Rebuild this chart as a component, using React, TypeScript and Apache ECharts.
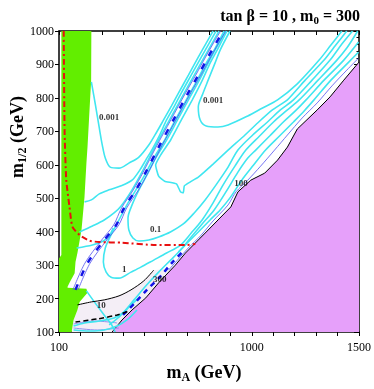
import React, { useEffect, useRef } from 'react';
import * as echarts from 'echarts';

const X_LABELS = [100, 1000, 1500];

const BOUNDARY = [[348,100],[394,136],[441,166],[505,202],[565,247],[643,300],[690,336],[750,375],[810,414],[902,474],[935,519],[995,554],[1060,575],[1120,614],[1166,653],[1212,707],[1305,764],[1365,803],[1429,853],[1500,907]];

const GREEN = [[111,1000],[251,1000],[250,853],[233,653],[228,605],[219,504],[205,405],[186,336],[177,309],[173,276],[149,247],[140,235],[140,232],[228,229],[233,217],[196,190],[186,166],[168,136],[159,100],[100,100],[100,320],[111,330]];

const LAVENDER = [[186,181],[251,190],[311,196],[380,208],[436,226],[496,253],[542,285],[630,291],[565,247],[505,202],[441,166],[394,136],[348,100],[159,100],[168,136],[186,166]];

const RED_LINE = [[122,1000],[126,704],[134,554],[149,474],[163,414],[196,390],[242,373],[288,369],[394,367],[551,360],[690,360],[736,363]];

const BLUE_CENTER = [[177,226],[233,306],[311,375],[367,420],[404,471],[459,525],[505,578],[565,653],[634,734],[703,815],[750,868],[796,922],[833,964],[866,1000]];
const BLUE_LEFT = [[165,226],[221,306],[299,375],[355,420],[392,471],[447,525],[493,578],[553,653],[622,734],[691,815],[738,868],[784,922],[821,964],[854,1000]];
const BLUE_RIGHT = [[189,226],[245,306],[323,375],[379,420],[416,471],[471,525],[517,578],[577,653],[646,734],[715,815],[762,868],[808,922],[845,964],[878,1000]];
const BLUE_EDGE = [[611,285],[657,318],[703,351],[764,390],[819,432],[889,480],[926,519],[981,554],[1041,596],[1106,644],[1166,689],[1235,740],[1305,785],[1374,836],[1443,883],[1498,919]];
const BLUE_LOW = [[399,151],[454,187],[510,226],[570,264],[630,309],[685,345]];

const C_0001_LEFT = [[251,848],[270,779],[288,710],[302,659],[316,620],[339,593],[380,590],[426,605],[473,623],[519,659],[556,698],[588,734],[625,776],[658,815],[704,868],[750,922],[787,964],[819,1000]];
const C_B = [[219,489],[251,495],[288,513],[334,525],[390,537],[441,554],[477,584],[505,614],[533,644],[570,689],[602,734],[639,776],[671,815],[717,868],[764,922],[801,964],[833,1000]];
const C_C = [[196,399],[256,417],[311,435],[357,456],[390,477],[441,525],[487,578],[547,653],[616,734],[685,815],[731,868],[778,922],[815,964],[847,1000]];
const C_D = [[182,351],[256,360],[307,372],[334,387],[353,411]];
const C_0001_RIGHT = [[898,1000],[852,943],[828,904],[796,853],[769,809],[750,773],[759,734],[787,716],[842,713],[889,719],[981,746],[1050,770],[1120,794],[1212,842],[1314,913],[1369,958],[1420,1000]];
const C_001 = [[884,1000],[838,943],[805,904],[769,853],[722,794],[671,734],[621,674],[574,629],[551,599],[565,566],[593,551],[648,543],[667,519],[680,516],[685,537],[713,549],[750,563],[819,602],[889,644],[958,683],[1027,725],[1096,764],[1166,794],[1249,853],[1337,913],[1388,955],[1443,1000]];
const C_01 = [[879,1000],[828,943],[796,904],[755,853],[704,794],[653,734],[602,674],[551,620],[510,569],[473,525],[441,480],[422,441],[426,405],[445,381],[473,372],[519,375],[565,384],[620,399],[680,423],[731,456],[782,495],[833,540],[889,593],[935,644],[1004,689],[1073,728],[1133,764],[1194,794],[1281,853],[1365,913],[1420,961],[1470,1000]];
const C_1 = [[870,1000],[824,943],[787,904],[745,853],[694,794],[643,734],[593,674],[542,620],[500,569],[459,525],[417,480],[380,435],[343,390],[316,351],[307,309],[320,279],[343,264],[380,261],[436,279],[482,294],[542,315],[602,336],[667,360],[717,396],[768,435],[819,486],[866,540],[921,596],[972,644],[1036,686],[1101,728],[1166,764],[1221,794],[1309,853],[1397,913],[1443,949],[1494,1000]];
const C_L4 = [[334,121],[390,151],[450,196],[510,241],[565,279],[621,315],[667,345],[713,381],[768,423],[824,465],[879,519],[935,578],[981,620],[1018,644],[1083,686],[1147,728],[1203,761],[1253,794],[1337,853],[1429,913],[1498,967]];
const C_L5 = [[657,339],[703,369],[750,399],[805,435],[852,465],[898,501],[953,554],[1008,599],[1064,644],[1129,686],[1194,728],[1244,761],[1290,794],[1369,853],[1452,907],[1498,937]];
const C_BL1 = [[168,118],[219,127],[288,133],[357,142],[404,160],[436,181],[473,202]];
const C_BL2 = [[168,106],[242,103],[311,106],[371,118],[417,136],[464,166]];
const C_BL3 = [[228,223],[265,190],[307,154],[343,124],[362,100]];

const LAV_1 = [[168,124],[265,133],[371,127]];
const LAV_2 = [[168,112],[279,106],[380,112]];

const BLACK_10 = [[186,181],[251,190],[311,196],[380,208],[436,226],[496,253],[542,285]];
const BLACK_DASH = [[177,130],[279,139],[371,151],[426,163]];

const CONTOUR_LABELS = [
  { name: '0.001', value: [334, 742] },
  { name: '0.001', value: [819, 794] },
  { name: '0.1', value: [551, 408] },
  { name: '1', value: [404, 288] },
  { name: '10', value: [297, 181] },
  { name: '300', value: [570, 258] },
  { name: '100', value: [949, 546] },
];

const FONT = 'Liberation Serif';
const CYAN = '#40E6F0';
const BLUE = '#1414E6';
const THIN_BLUE = '#5050F0';

export default function App() {
  const ref = useRef<HTMLDivElement>(null);
  useEffect(() => {
    const chart = echarts.init(ref.current!, null, { renderer: 'svg' });
    const polygon = (pts: number[][], fill: string, z: number) => ({
      type: 'custom',
      coordinateSystem: 'cartesian2d',
      z,
      silent: true,
      data: [[pts[0][0], pts[0][1]]],
      encode: { x: 0, y: 1 },
      renderItem: (_p: any, api: any) => ({
        type: 'polygon',
        shape: { points: pts.map((p) => api.coord(p)) },
        style: { fill, stroke: 'none' },
      }),
    });
    const line = (data: number[][], color: string, width: number, type: any = 'solid', z = 4, smooth: any = 0.3) => ({
      type: 'line',
      data,
      showSymbol: false,
      symbol: 'none',
      smooth,
      silent: true,
      z,
      lineStyle: { color, width, type },
    });
    const axisBase = {
      axisLine: { show: true, onZero: false, lineStyle: { color: '#000', width: 1.5 } },
      splitLine: { show: false },
    };
    chart.setOption({
      animation: false,
      grid: { left: 59, right: 12, top: 31, bottom: 57 },
      xAxis: [
        {
          type: 'value', min: 100, max: 1500, interval: 100, position: 'bottom', ...axisBase,
          axisTick: { show: true, inside: false, length: 4, lineStyle: { color: '#000' } },
          axisLabel: {
            formatter: (v: number) => (X_LABELS.includes(v) ? String(v) : ''),
            color: '#000', fontFamily: FONT, fontSize: 12, margin: 9,
          },
        },
        {
          type: 'value', min: 100, max: 1500, interval: 100, position: 'top', ...axisBase,
          axisTick: { show: true, inside: true, length: 4, lineStyle: { color: '#000' } },
          axisLabel: { show: false },
        },
      ],
      yAxis: [
        {
          type: 'value', min: 100, max: 1000, interval: 100, position: 'left', ...axisBase,
          axisTick: { show: true, inside: false, length: 4, lineStyle: { color: '#000' } },
          axisLabel: { formatter: (v: number) => String(v), color: '#000', fontFamily: FONT, fontSize: 12, margin: 5 },
        },
        {
          type: 'value', min: 100, max: 1000, interval: 100, position: 'right', ...axisBase,
          axisTick: { show: true, inside: true, length: 5, lineStyle: { color: '#000' } },
          minorTick: { show: true, splitNumber: 5, length: 2.5, lineStyle: { color: '#000' } },
          axisLabel: { show: false },
        },
      ],
      graphic: [
        {
          type: 'text', x: 360, y: 15, z: 100,
          style: {
            text: '{a|tan β = 10 , m}{s|0}{a| = 300}',
            textAlign: 'right', textVerticalAlign: 'middle',
            rich: {
              a: { fontSize: 16, fontWeight: 'bold', fontFamily: FONT, lineHeight: 20, fill: '#000' },
              s: { fontSize: 11, fontWeight: 'bold', fontFamily: FONT, lineHeight: 11, verticalAlign: 'bottom', fill: '#000' },
            },
          },
        },
        {
          type: 'text', x: 204, y: 372, z: 100,
          style: {
            text: '{a|m}{s|A}{a| (GeV)}',
            textAlign: 'center', textVerticalAlign: 'middle',
            rich: {
              a: { fontSize: 18, fontWeight: 'bold', fontFamily: FONT, lineHeight: 22, fill: '#000' },
              s: { fontSize: 12, fontWeight: 'bold', fontFamily: FONT, lineHeight: 12, verticalAlign: 'bottom', fill: '#000' },
            },
          },
        },
        {
          type: 'text', x: 17, y: 137, rotation: Math.PI / 2, z: 100,
          style: {
            text: '{a|m}{s|1/2}{a| (GeV)}',
            textAlign: 'center', textVerticalAlign: 'middle',
            rich: {
              a: { fontSize: 18, fontWeight: 'bold', fontFamily: FONT, lineHeight: 22, fill: '#000' },
              s: { fontSize: 12, fontWeight: 'bold', fontFamily: FONT, lineHeight: 12, verticalAlign: 'bottom', fill: '#000' },
            },
          },
        },
      ],
      series: [
        polygon(LAVENDER, '#F4EEF6', 1),
        polygon(GREEN, '#62EE00', 2),
        {
          type: 'line', data: BOUNDARY, showSymbol: false, symbol: 'none', silent: true, z: 3,
          lineStyle: { color: '#000', width: 1 },
          areaStyle: { color: '#E6A0FA', opacity: 1, origin: 'start' },
        },
        line(LAV_1, '#9090F0', 1, 'solid', 4),
        line(LAV_2, '#9090F0', 1, 'solid', 4),
        line(C_0001_LEFT, CYAN, 1.6),
        line(C_B, CYAN, 1.6),
        line(C_C, CYAN, 1.6),
        line(C_D, CYAN, 1.6),
        line(C_0001_RIGHT, CYAN, 1.6),
        line(C_001, CYAN, 1.6, 'solid', 4, 0.15),
        line(C_01, CYAN, 1.6),
        line(C_1, CYAN, 1.6),
        line(C_L4, CYAN, 1.6),
        line(C_L5, CYAN, 1.6),
        line(C_BL1, CYAN, 1.6),
        line(C_BL2, CYAN, 1.6),
        line(C_BL3, CYAN, 1.6),
        line(BLUE_LEFT, THIN_BLUE, 0.8, 'solid', 5),
        line(BLUE_RIGHT, THIN_BLUE, 0.8, 'solid', 5),
        line(BLUE_EDGE, THIN_BLUE, 0.8, 'solid', 5),
        line(BLUE_CENTER, BLUE, 2.5, [6, 9], 6),
        line(BLUE_LOW, BLUE, 2.5, [5, 5], 6),
        line(BLACK_10, '#000', 1, 'solid', 7),
        line(BLACK_DASH, '#000', 1.5, [5, 3], 7),
        line(RED_LINE, '#E81010', 2, [6, 3, 2, 3], 8, 0.2),
        {
          type: 'scatter', data: CONTOUR_LABELS, symbolSize: 0, silent: true, z: 10,
          label: {
            show: true, position: 'inside', formatter: '{b}',
            color: '#000', fontFamily: FONT, fontWeight: 'bold', fontSize: 9,
          },
        },
      ],
    });
    return () => chart.dispose();
  }, []);
  return <div ref={ref} style={{ position: 'fixed', left: 0, top: 0, width: 374, height: 389 }} />;
}
